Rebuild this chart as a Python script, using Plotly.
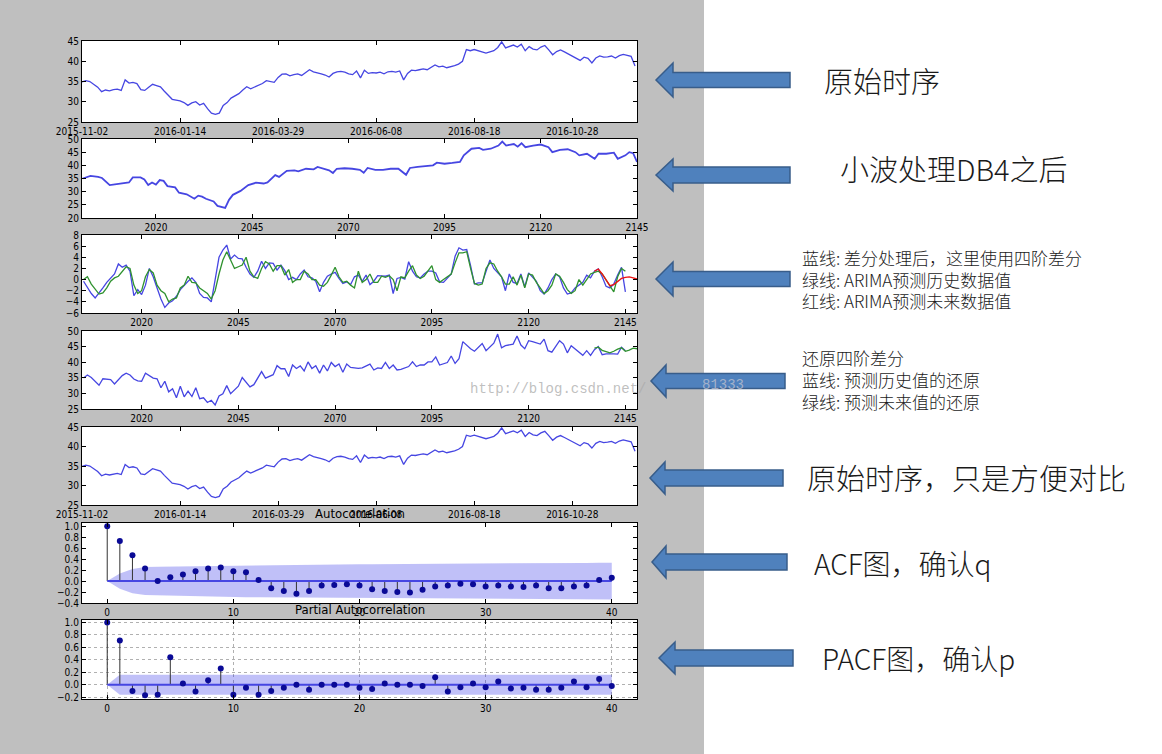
import plotly.graph_objects as go

W, H = 1162, 754

# ---------------- data ----------------
# panel 1 / 5: original series, one value every 2 observations
RAW_DATES = ['2015-11-02', '2016-01-14', '2016-03-29', '2016-06-08', '2016-08-18', '2016-10-28']
RAW_DATE_POS = [0, 50, 100, 150, 200, 250]
RAW_STEP = 2
RAW_VALUES = [
    34.9, 35.2, 35.0, 34.2, 33.6, 32.5, 32.9, 32.7, 33.0, 33.1,
    32.8, 35.4, 34.6, 34.8, 34.5, 33.0, 32.8, 33.6, 34.3, 34.0,
    33.7, 32.6, 31.5, 30.6, 30.4, 30.2, 29.8, 29.1, 29.7, 30.0,
    29.2, 29.6, 28.3, 27.2, 26.9, 27.2, 29.1, 29.8, 30.9, 31.4,
    32.0, 32.9, 33.7, 33.2, 33.6, 33.9, 34.5, 35.2, 35.0, 34.8,
    36.0, 36.8, 36.9, 36.4, 36.7, 36.9, 36.5, 37.2, 37.9, 37.4,
    37.2, 36.9, 36.6, 36.1, 37.0, 37.4, 37.5, 37.3, 36.9, 36.7,
    37.6, 35.9, 37.8, 37.0, 37.2, 37.1, 37.3, 36.9, 37.4, 37.5,
    37.3, 37.6, 35.4, 37.0, 37.8, 37.7, 37.9, 38.1, 37.9, 38.4,
    39.1, 38.6, 38.8, 38.4, 38.6, 38.9, 39.3, 40.0, 42.9, 42.6,
    42.9, 42.6, 42.4, 42.0, 42.3, 42.6, 43.4, 44.8, 43.3, 43.6,
    44.0, 43.5, 44.2, 42.6, 43.6, 43.0, 42.8, 43.5, 43.9, 42.8,
    41.6, 42.4, 42.8, 42.3, 41.8, 41.3, 40.6, 40.2, 41.0, 40.7,
    39.6, 40.8, 41.3, 41.0, 41.1, 41.3, 40.8, 41.4, 41.7, 41.4,
    41.2, 38.8,
]

# panel 2: after DB4 wavelet
DB4_POINTS = [
    (2001, 35.0), (2003, 36.0), (2005, 35.6), (2006, 35.2), (2008, 32.5), (2010, 32.9),
    (2012, 33.1), (2013, 33.5), (2014, 35.4), (2016, 35.4), (2017, 34.6), (2018, 32.5),
    (2019, 33.5), (2020, 32.7), (2021, 34.4), (2022, 34.1), (2023, 32.1), (2025, 31.6),
    (2026, 29.6), (2028, 29.0), (2030, 27.3), (2031, 28.5), (2032, 28.1), (2033, 27.3),
    (2035, 26.3), (2036, 24.6), (2038, 23.8), (2039, 26.9), (2040, 28.8), (2042, 30.3),
    (2044, 32.5), (2046, 33.4), (2048, 33.1), (2049, 33.5), (2051, 36.3), (2052, 35.6),
    (2054, 37.9), (2056, 38.1), (2057, 37.7), (2059, 38.7), (2061, 38.5), (2062, 39.4),
    (2065, 38.1), (2066, 37.1), (2067, 38.7), (2069, 38.9), (2071, 38.7), (2073, 38.3),
    (2074, 37.2), (2075, 39.0), (2077, 38.3), (2079, 38.3), (2081, 38.7), (2083, 38.7),
    (2085, 36.4), (2086, 39.0), (2088, 39.4), (2090, 39.6), (2092, 40.0), (2093, 41.0),
    (2095, 40.6), (2097, 40.9), (2099, 41.3), (2100, 43.8), (2102, 46.3), (2104, 46.6),
    (2105, 45.9), (2107, 46.3), (2109, 47.5), (2110, 49.0), (2111, 47.5), (2113, 48.1),
    (2114, 47.1), (2115, 48.4), (2116, 46.9), (2118, 47.5), (2120, 47.9), (2122, 46.9),
    (2123, 45.0), (2125, 45.9), (2127, 46.1), (2129, 45.0), (2130, 43.8), (2132, 44.4),
    (2134, 42.5), (2135, 44.4), (2137, 44.4), (2139, 44.8), (2140, 42.5), (2142, 43.8),
    (2143, 45.0), (2144, 44.6), (2145, 41.3),
]

# panel 3: 4th order difference (blue), ARIMA fit (green), ARIMA forecast (red)
DIFF_START = 2005
DIFF_VALUES = [
    -0.3, -1.5, -2.5, -3.3, -2.5, -1.5, -0.5, 0.3, 1.0, 2.8,
    2.2, 2.6, 1.5, -2.9, -1.8, -2.7, -1.0, 2.0, 0.5, -1.5,
    -3.5, -5.0, -4.2, -3.8, -3.0, -1.8, -1.0, -0.3, 0.3, -0.5,
    -2.5, -3.2, -3.3, -4.0, 0.0, 4.0, 5.3, 6.2, 3.7, 4.4,
    3.8, 3.7, 2.2, 1.0, 0.4, 1.5, 3.3, 2.0, 3.0, 2.9,
    1.7, 2.6, 1.6, 0.0, 0.4, 0.0, 1.0, 1.7, 0.5, 0.3,
    -0.3, -2.2, -0.5, 0.6, 1.0, 1.3, 0.2, -0.7, -0.4, -0.9,
    0.5, 0.8, -0.3, 0.8, -0.9, -0.3, 0.7, 0.6, 0.6, 0.8,
    -2.5, 0.2, 0.4, 0.1, 3.2, 1.5, 0.5, 0.3, 1.0, 1.5,
    1.5, 1.2, -0.4, -0.5, 0.3, 1.0, 4.2, 5.7, 5.3, 5.4,
    2.5, -0.8, -0.6, -0.6, 1.5, 3.5, 2.0, 1.2, 0.5, -2.0,
    1.0, -0.5, -0.7, 1.0, -1.3, 1.2, 0.5, -0.3, -2.0, -2.6,
    -1.5, 0.0, 1.0, 0.5, -1.5, -2.6, -2.4, -1.5, -1.0, -0.5,
    0.8, 0.3, 1.5, 1.9, 0.5, -1.2, -1.5, -0.8, 0.8, 2.2,
    -2.2,
]
FIT_VALUES = [
    0.0, 0.5, -0.8, -1.8, -2.6, -2.4, -1.5, -0.3, 0.3, 0.6,
    1.5, 2.3, 2.0, -1.0, -2.5, -2.0, 0.5, 1.8, 1.2, -1.0,
    -2.0, -2.5, -4.0, -3.5, -3.3, -1.5, -1.0, 0.6, -0.5, -0.6,
    -1.5, -2.0, -2.5, -3.5, -2.0, 1.0, 3.5, 5.0, 3.5, 2.0,
    2.3, 2.6, 4.0, 1.5, 0.5, 0.2, 2.0, 3.2, 2.8, 1.5,
    2.5, 2.5, 0.8, 1.8, -0.5, 0.0, 0.0, 1.5, 1.0, 0.0,
    0.0, -1.0, -1.2, -0.5, 0.8, 2.2, 0.5, -0.5, -0.3, -1.0,
    -1.5, 1.5, -0.5, 0.0, 1.0, -0.5, -0.5, 0.6, 0.4, 0.7,
    0.0, -2.0, 0.5, 0.3, 1.5, 2.5, 0.8, 0.2, 0.6, 1.5,
    2.5, 0.0, -0.5, 0.0, 0.5, 1.0, 3.0, 4.8, 4.8, 5.0,
    2.0, -0.7, -1.0, -0.8, 2.0, 3.0, 2.8, 1.5, 0.5, -0.8,
    -0.8, 0.5, -1.0, 0.8, -1.5, 1.0, 0.8, -0.5, -1.5, -2.5,
    -2.0, -1.0, 1.0, 0.6, -0.5, -1.8, -2.5, -2.0, 0.0, -1.0,
    0.0, 1.0, 1.3, 1.5, 1.0, 0.0, -1.2, -2.2, 0.5, 2.0,
    1.5,
]
FC_START = 2137
FC_VALUES = [1.5, 1.9, 1.0, 0.0, -1.1, -0.9, -0.3, 0.2, 0.4, 0.5, 0.3, 0.1]

# panel 4: restored series (blue history, green future)
REST_POINTS = [
    (2005, 34.9), (2006, 35.9), (2007, 35.1), (2008, 33.9), (2009, 32.6), (2010, 34.7),
    (2012, 34.4), (2013, 33.0), (2015, 35.7), (2016, 36.5), (2017, 35.9), (2018, 34.6),
    (2019, 34.0), (2020, 33.9), (2021, 36.5), (2023, 34.9), (2024, 34.7), (2025, 31.8),
    (2026, 33.9), (2027, 30.5), (2028, 31.5), (2029, 28.6), (2030, 32.3), (2031, 28.9),
    (2032, 30.7), (2033, 29.0), (2034, 31.8), (2035, 28.3), (2036, 28.6), (2037, 27.1),
    (2038, 27.8), (2039, 26.3), (2040, 29.2), (2041, 29.9), (2042, 32.5), (2043, 29.9),
    (2044, 31.2), (2045, 32.3), (2046, 35.1), (2047, 33.5), (2048, 32.1), (2049, 32.8),
    (2051, 37.0), (2052, 34.9), (2053, 35.4), (2054, 36.0), (2055, 38.9), (2056, 37.9),
    (2057, 37.9), (2058, 35.4), (2059, 39.1), (2060, 38.0), (2061, 38.8), (2062, 37.2),
    (2063, 40.1), (2064, 38.0), (2065, 38.9), (2066, 36.5), (2067, 39.1), (2068, 37.2),
    (2069, 39.9), (2070, 38.6), (2071, 39.4), (2072, 36.8), (2073, 39.4), (2074, 38.3),
    (2076, 38.0), (2077, 38.2), (2079, 39.4), (2080, 37.5), (2081, 38.2), (2082, 38.0),
    (2083, 39.9), (2084, 38.0), (2085, 39.1), (2086, 37.5), (2087, 37.7), (2089, 38.6),
    (2090, 40.1), (2091, 38.6), (2092, 39.1), (2093, 39.1), (2094, 40.1), (2095, 40.1),
    (2096, 41.7), (2097, 39.1), (2099, 39.9), (2100, 42.0), (2101, 39.6), (2102, 41.1),
    (2103, 46.6), (2105, 44.3), (2106, 43.5), (2107, 44.8), (2108, 46.0), (2109, 43.7),
    (2111, 46.1), (2112, 49.0), (2113, 44.6), (2114, 45.3), (2116, 45.8), (2117, 48.4),
    (2118, 45.5), (2119, 44.3), (2120, 46.9), (2121, 46.6), (2123, 45.8), (2124, 47.4),
    (2125, 43.7), (2126, 43.2), (2128, 46.9), (2129, 45.8), (2130, 43.0), (2131, 45.3),
    (2133, 43.2), (2134, 42.2), (2135, 43.7), (2136, 42.2), (2137, 44.0), (2138, 45.0),
    (2139, 42.4), (2140, 42.7), (2142, 42.7), (2143, 42.6), (2144, 44.8), (2145, 43.7),
]
REST_FC_START = 2137
REST_FC_VALUES = [44.5, 44.8, 43.8, 43.3, 43.0, 43.5, 44.2, 44.6, 43.5, 43.9, 44.5, 44.3]

IDX_TICKS = [2020, 2045, 2070, 2095, 2120, 2145]

# panels 6 / 7: ACF and PACF, lags 0..40
ACF_VALUES = [
    1.0, 0.73, 0.47, 0.23, 0.0, 0.07, 0.12, 0.18, 0.23, 0.25,
    0.18, 0.16, 0.02, -0.13, -0.18, -0.23, -0.18, -0.08, -0.07, -0.06,
    -0.08, -0.15, -0.18, -0.20, -0.21, -0.16, -0.10, -0.08, -0.05, -0.06,
    -0.10, -0.08, -0.10, -0.11, -0.08, -0.13, -0.13, -0.10, -0.08, 0.02,
    0.06,
]
ACF_CONF = [
    0.0, 0.14, 0.22, 0.255, 0.262, 0.265, 0.268, 0.272, 0.277, 0.283,
    0.289, 0.293, 0.296, 0.297, 0.299, 0.302, 0.305, 0.306, 0.307, 0.307,
    0.308, 0.309, 0.311, 0.313, 0.316, 0.319, 0.32, 0.321, 0.322, 0.322,
    0.323, 0.324, 0.325, 0.326, 0.327, 0.328, 0.33, 0.331, 0.332, 0.333,
    0.334,
]
PACF_VALUES = [
    1.0, 0.71, -0.10, -0.17, -0.16, 0.44, 0.02, -0.11, 0.07, 0.26,
    -0.16, -0.05, -0.16, -0.10, -0.05, 0.0, -0.08, 0.0, 0.0, 0.0,
    -0.05, -0.07, 0.02, 0.0, 0.0, -0.02, 0.12, -0.11, -0.04, 0.02,
    -0.04, 0.05, -0.06, -0.05, -0.08, -0.08, -0.05, 0.05, -0.04, 0.09,
    -0.02,
]
PACF_CONF = 0.16
LAG_TICKS = [0, 10, 20, 30, 40]

# ---------------- styling ----------------
FONT = 'Liberation Sans Narrow, DejaVu Sans Condensed, Liberation Sans, sans-serif'
CJK = 'Noto Sans CJK SC'
BLUE = '#4646e2'
GREEN = '#2f922f'
RED = '#ee1111'
DOT = '#0a0a96'
BAND = 'rgba(30,30,230,0.28)'

BOX_X = (82, 637)
BOXES = [(41, 122), (139, 218), (235, 313), (331, 409), (427, 505), (523, 603), (620, 699)]


def axis_names(k):
    s = '' if k == 0 else str(k + 1)
    return 'x' + s, 'y' + s


def base_axis():
    return dict(showline=True, linecolor='black', linewidth=1.2, mirror='allticks',
                ticks='inside', ticklen=4, tickcolor='black', showgrid=False,
                zeroline=False, automargin=False,
                tickfont=dict(family=FONT, size=10, color='black'))


fig = go.Figure()


def line(k, x, y, color, width=1.3):
    xa, ya = axis_names(k)
    fig.add_trace(go.Scatter(x=x, y=y, mode='lines', xaxis=xa, yaxis=ya,
                             line=dict(color=color, width=width), hoverinfo='skip'))


# panel 1 and 5
raw_x = [i * RAW_STEP for i in range(len(RAW_VALUES))]
line(0, raw_x, RAW_VALUES, BLUE)
line(4, raw_x, RAW_VALUES, BLUE)

# panel 2
line(1, [p[0] for p in DB4_POINTS], [p[1] for p in DB4_POINTS], BLUE, 1.8)

# panel 3
diff_x = list(range(DIFF_START, DIFF_START + len(DIFF_VALUES)))
line(2, diff_x, DIFF_VALUES, BLUE)
line(2, diff_x, FIT_VALUES, GREEN)
line(2, list(range(FC_START, FC_START + len(FC_VALUES))), FC_VALUES, RED)

# panel 4
line(3, [p[0] for p in REST_POINTS], [p[1] for p in REST_POINTS], BLUE)
line(3, list(range(REST_FC_START, REST_FC_START + len(REST_FC_VALUES))), REST_FC_VALUES, GREEN)


def corr_panel(k, values, conf):
    xa, ya = axis_names(k)
    lags = list(range(len(values)))
    fig.add_trace(go.Scatter(x=lags + lags[::-1], y=conf + [-c for c in conf[::-1]],
                             fill='toself', fillcolor=BAND, line=dict(width=0),
                             mode='lines', xaxis=xa, yaxis=ya, hoverinfo='skip'))
    sx, sy = [], []
    for l, v in zip(lags, values):
        sx += [l, l, None]
        sy += [0, v, None]
    fig.add_trace(go.Scatter(x=sx, y=sy, mode='lines', line=dict(color='#333333', width=1),
                             xaxis=xa, yaxis=ya, hoverinfo='skip'))
    fig.add_trace(go.Scatter(x=[lags[0], lags[-1]], y=[0, 0], mode='lines',
                             line=dict(color=BLUE, width=2), xaxis=xa, yaxis=ya, hoverinfo='skip'))
    fig.add_trace(go.Scatter(x=lags, y=values, mode='markers',
                             marker=dict(color=DOT, size=6), xaxis=xa, yaxis=ya, hoverinfo='skip'))


corr_panel(5, ACF_VALUES, ACF_CONF)
corr_panel(6, PACF_VALUES, [0.0] + [PACF_CONF] * (len(PACF_VALUES) - 1))

# ---------------- axes ----------------
ranges_x = [[0, 283], [2000.8, 2145], [2004.6, 2148], [2004.6, 2148], [0, 283], [-2, 42], [-2, 42]]
ranges_y = [[25, 45], [20, 50], [-6, 8], [25, 50], [25, 45], [-0.4, 1.06], [-0.23, 1.04]]
ytick = [5, 5, 2, 5, 5, 0.2, 0.2]
layout = {}
for k, (top, bot) in enumerate(BOXES):
    xa, ya = axis_names(k)
    xd = base_axis()
    xd.update(domain=[BOX_X[0] / W, BOX_X[1] / W], range=ranges_x[k], anchor=ya)
    yd = base_axis()
    yd.update(domain=[1 - bot / H, 1 - top / H], range=ranges_y[k], anchor=xa, dtick=ytick[k])
    if k in (0, 4):
        xd.update(tickmode='array', tickvals=RAW_DATE_POS, ticktext=RAW_DATES)
    elif k in (1, 2, 3):
        xd.update(tickmode='array', tickvals=IDX_TICKS)
    else:
        xd.update(tickmode='array', tickvals=LAG_TICKS)
        yd.update(tick0=-0.2, tickformat='.1f')
    if k == 6:
        grid = dict(showgrid=True, gridcolor='#b0b0b0', griddash='dot', gridwidth=1)
        xd.update(grid)
        yd.update(grid)
    layout['xaxis' + xa[1:]] = xd
    layout['yaxis' + ya[1:]] = yd
fig.update_layout(**layout)

# ---------------- background, arrows, notes ----------------
def px(x, y):
    return f'{x / W:.5f},{1 - y / H:.5f}'


shapes = [dict(type='rect', xref='paper', yref='paper', x0=704 / W, x1=1, y0=0, y1=1,
               fillcolor='white', line=dict(width=0), layer='below')]

ARROWS = [  # tip x, head back x, tail x, centre y, head half height, shaft half height
    (656, 673, 790, 80, 17, 7.5),
    (656, 673, 790, 175, 16, 8),
    (656, 673, 790, 279, 17, 7.5),
    (651, 666, 785, 381, 16, 7.5),
    (650, 665, 783, 478, 16, 8),
    (652, 666, 787, 562, 16, 8),
    (659, 675, 793, 658, 16, 8),
]
for tip, back, tail, yc, hh, sh in ARROWS:
    pts = [(tip, yc), (back, yc - hh), (back, yc - sh), (tail, yc - sh),
           (tail, yc + sh), (back, yc + sh), (back, yc + hh)]
    path = 'M ' + ' L '.join(px(x, y) for x, y in pts) + ' Z'
    shapes.append(dict(type='path', xref='paper', yref='paper', path=path,
                       fillcolor='#4f81bd', line=dict(color='#385d8a', width=1.5), layer='above'))

NOTES = [
    ('原始时序', 822, 80, 29),
    ('小波处理DB4之后', 838, 168, 29),
    ('蓝线: 差分处理后，这里使用四阶差分', 800, 257, 17),
    ('绿线: ARIMA预测历史数据值', 800, 279, 17),
    ('红线: ARIMA预测未来数据值', 800, 300, 17),
    ('还原四阶差分', 800, 357, 17),
    ('蓝线: 预测历史值的还原', 800, 379, 17),
    ('绿线: 预测未来值的还原', 800, 401, 17),
    ('原始时序，只是方便对比', 805, 477, 29),
    ('ACF图，确认q', 812, 563, 28),
    ('PACF图，确认p', 820, 658, 28),
]
ann = []
for text, x, y, size in NOTES:
    ann.append(dict(text=text, xref='paper', yref='paper', x=x / W, y=1 - y / H,
                    xanchor='left', yanchor='middle', showarrow=False,
                    font=dict(family=CJK, size=size, color='#1a1a1a', weight=300)))

for text, y in [('Autocorrelation', 513), ('Partial Autocorrelation', 609)]:
    ann.append(dict(text=text, xref='paper', yref='paper', x=(BOX_X[0] + BOX_X[1]) / 2 / W,
                    y=1 - y / H, xanchor='center', yanchor='middle', showarrow=False,
                    font=dict(family=FONT, size=13, color='black')))

# faint blog watermark
ann.append(dict(text='http://blog.csdn.net/', xref='paper', yref='paper', x=468 / W, y=1 - 389 / H,
                xanchor='left', yanchor='middle', showarrow=False,
                font=dict(family='Liberation Mono', size=14, color='rgba(170,170,170,0.75)')))
ann.append(dict(text='81333', xref='paper', yref='paper', x=700 / W, y=1 - 385 / H,
                xanchor='left', yanchor='middle', showarrow=False,
                font=dict(family='Liberation Mono', size=14, color='rgba(200,200,210,0.7)')))

fig.update_layout(width=W, height=H, margin=dict(l=0, r=0, t=0, b=0, autoexpand=False),
                  paper_bgcolor='#bfbfbf', plot_bgcolor='white', showlegend=False,
                  shapes=shapes, annotations=ann)

fig.write_html('out.html', config={'displayModeBar': False},
               post_script="document.body.style.margin='0';")
